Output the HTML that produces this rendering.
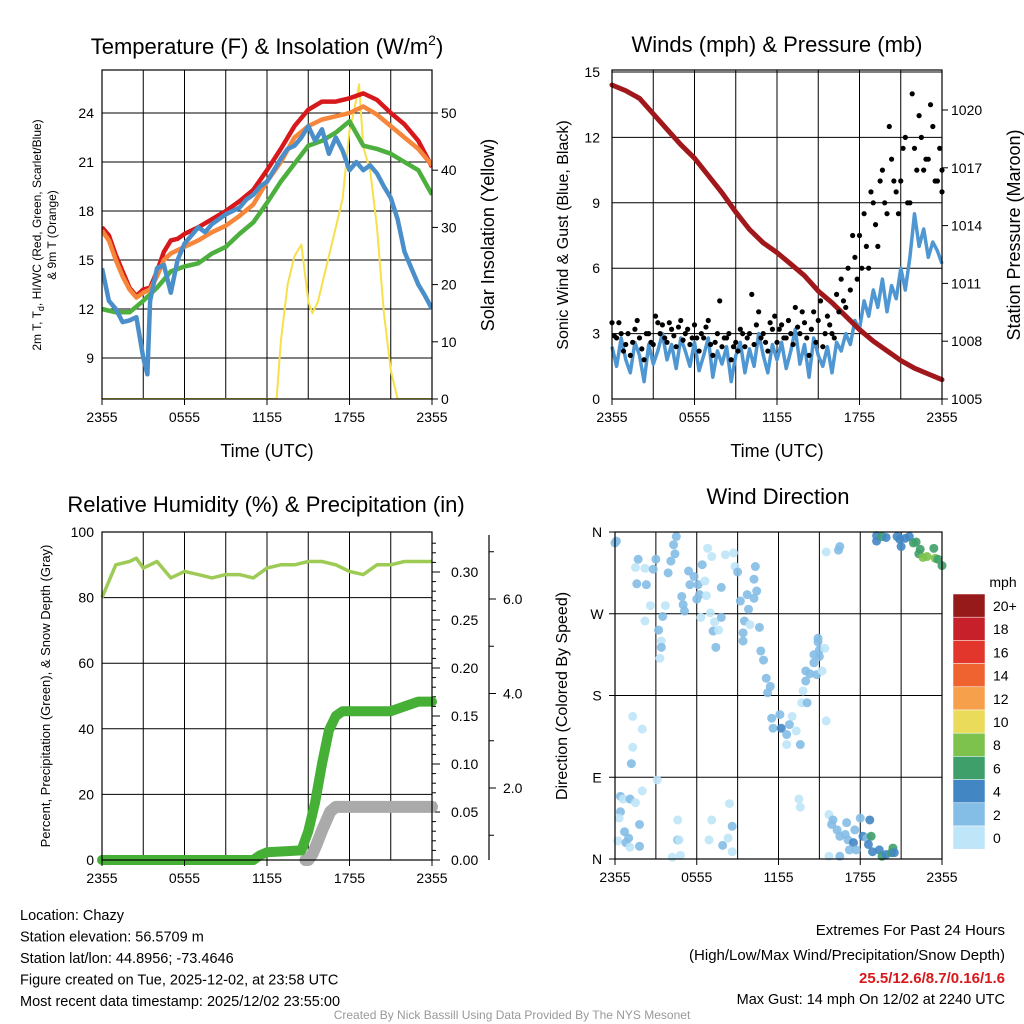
<!DOCTYPE html>
<html><head><meta charset="utf-8"><style>
body{margin:0;background:#fff}
svg{display:block;font-family:"Liberation Sans",sans-serif}
</style></head><body>
<svg id="s" width="1024" height="1024" viewBox="0 0 1024 1024"></svg>
<script>
// ---------- DATA ----------
const tempHours=[0,0.5,1,1.5,2,2.5,3,3.5,4,4.5,5,5.5,6,7,8,9,10,11,12,13,14,15,16,17,18,19,20,21,22,23,24];
const tempRed=[17.0,16.5,15.3,14.3,13.3,12.8,13.2,13.3,14.3,15.5,16.2,16.3,16.6,17.0,17.5,18.0,18.6,19.3,20.5,21.8,23.2,24.2,24.7,24.7,24.9,25.2,24.8,24.0,23.3,22.3,20.7];
const tempOrange=[16.8,16.2,15.0,14.0,13.2,12.7,13.0,13.2,14.0,15.0,15.4,15.6,15.8,16.2,16.7,17.1,17.7,18.4,19.8,21.0,22.5,23.2,23.6,23.8,24.0,24.4,23.9,23.2,22.5,21.8,20.8];
const hiHours=[0,1,2,3,4,5,6,7,8,9,10,11,12,13,14,15,16,17,18,19,20,21,22,23,24];
const tempGreen=[12.0,11.8,11.8,12.5,13.3,14.3,14.6,14.8,15.4,15.8,16.6,17.3,18.5,19.8,20.9,22.0,22.3,22.8,23.5,22.0,21.8,21.5,21.0,20.5,19.0];
const dewHours=[0,0.5,1,1.5,2,2.5,3,3.3,3.5,4,4.5,5,5.5,6,6.5,7,7.5,8,8.5,9,9.5,10,10.5,11,11.5,12,12.5,13,13.5,14,14.5,15,15.5,16,16.5,17,17.5,18,18.5,19,19.5,20,20.5,21,21.5,22,22.5,23,23.5,24];
const tempDew=[14.5,12.5,12.0,11.2,11.3,11.5,9.0,8.0,12.5,14.5,14.7,13.0,15.0,16.0,16.5,17.0,16.7,17.2,17.5,17.8,18.0,18.2,18.7,19.0,19.5,19.8,20.5,21.2,21.8,22.0,22.5,23.2,22.3,23.0,21.5,22.5,21.7,20.5,21.0,20.5,20.8,20.3,19.5,18.8,17.5,15.5,14.5,13.5,12.8,12.0];
const solarHours=[0,12.7,13,13.5,14,14.5,15,15.3,15.7,16,16.5,17,17.5,18,18.3,18.7,19,19.5,20,20.5,21,21.5,24];
const solar=[0,0,10,20,25,27,17,15,17,20,25,30,35,47,50,55,44,40,30,15,5,0,0];
const tempTicks=[9,12,15,18,21,24];
const solarTicks=[0,10,20,30,40,50];
const timeTicks=["2355","0555","1155","1755","2355"];

const windSpeed=[2.4,1.5,2.8,1.8,1.2,2.6,2.0,0.8,2.5,1.6,2.2,3.0,1.8,2.5,1.4,2.8,2.2,1.5,
2.6,1.3,2.0,2.8,1.0,2.2,1.6,2.4,0.8,2.0,2.6,1.2,2.3,1.5,3.0,2.0,1.2,2.5,
1.8,2.6,1.4,2.2,3.2,1.6,2.5,1.0,2.8,2.0,1.5,2.4,1.2,2.6,2.2,3.0,2.5,3.6,
3.2,4.5,3.8,5.0,4.2,5.5,4.0,5.2,4.6,6.0,5.0,6.5,8.5,7.0,7.8,6.5,7.2,6.8,6.2];
const gust1=[3.5,2.8,3.0,2.5,2.0,3.2,2.8,1.8,3.0,2.5,3.5,3.4,2.6,3.2,2.4,3.6,3.0,2.5,
3.4,2.2,2.8,3.6,2.0,3.0,2.4,2.8,1.8,2.6,3.2,2.4,3.0,2.5,4.0,3.0,2.2,3.2,
2.6,3.4,2.8,3.0,4.2,3.0,3.5,2.0,4.0,3.6,2.4,3.8,3.0,4.8,5.5,4.2,5.0,6.5,
7.5,8.5,6.0,9.0,7.0,10.5,8.5,11.0,9.5,10.0,12.0,9.0,11.5,13.0,10.5,11.0,12.5,10.0,9.5];
const gust2=[2.9,3.5,2.2,3.0,2.6,3.6,2.3,3.0,2.6,3.8,3.0,2.8,3.5,2.9,3.3,2.7,3.2,2.8,
2.8,3.0,3.3,2.5,2.6,4.5,2.8,3.0,2.4,2.2,3.0,2.8,4.8,3.4,2.8,2.6,3.5,3.8,
3.2,2.8,3.6,2.5,3.3,4.0,2.8,3.2,2.6,4.5,3.0,3.4,2.8,4.0,4.5,6.0,7.5,5.5,
6.0,7.0,9.5,8.0,10.0,9.0,12.5,10.0,8.5,11.5,9.0,14.0,10.5,12.0,11.0,13.5,10.0,11.5,10.5];
const presHours=[0,1,2,3,4,5,6,7,8,9,10,11,12,13,14,15,16,17,18,19,20,21,22,23,24];
const pressure=[1021.3,1021.0,1020.6,1019.8,1019.0,1018.2,1017.5,1016.6,1015.7,1014.7,1013.8,1013.1,1012.6,1012.0,1011.4,1010.6,1010.0,1009.3,1008.6,1008.0,1007.5,1007.0,1006.6,1006.3,1006.0];
const windTicks=[0,3,6,9,12,15];
const presTicks=[1005,1008,1011,1014,1017,1020];

const rhHours=[0,0.2,1,2,2.5,3,4,5,6,7,8,9,10,11,12,13,14,15,16,17,18,19,20,21,22,23,24];
const rh=[80,82,90,91,92,89,91,86,88,87,86,87,87,86,89,90,90,91,91,90,88,87,90,90,91,91,91];
const precipHours=[0,11,11.5,12,14.5,15,15.5,16,16.5,17,17.5,18,21,22,23,24];
const precip=[0,0,0.005,0.008,0.01,0.03,0.06,0.1,0.135,0.15,0.155,0.155,0.155,0.16,0.165,0.165];
const snowHours=[14.8,15,15.3,15.6,16,16.3,16.6,17,24];
const snow=[0,0.3,0.6,0.8,1.1,1.3,1.5,1.6,1.6];
const rhTicks=[0,20,40,60,80,100];
const precipTicks=[0,0.05,0.10,0.15,0.20,0.25,0.30];
const snowTicks=[2,4,6];

const dirHours=[0,0.1,1.7,1.5,2.2,1.6,2.3,2.6,2.2,3.0,2.8,3.9,4.1,4.3,4.5,4.4,3.7,3.5,3.2,3.4,3.4,3.3,4.9,5.0,5.1,5.4,5.5,5.8,6.1,6.6,6.2,6.7,6.0,6.3,6.4,6.8,7.1,7.0,7.2,7.6,7.4,7.3,7.8,7.8,8.1,8.7,8.8,9.0,9.2,9.7,9.8,10.2,10.4,10.2,10.3,9.5,9.4,9.4,9.9,10.6,10.7,10.9,11.1,11.4,11.2,11.5,12.1,11.6,12.2,12.6,13.0,12.8,13.3,13.6,12.6,13.7,14.1,13.8,14.0,14.0,14.3,14.6,14.8,15.2,15.0,14.6,15.0,14.9,15.4,15.5,14.9,15.5,16.4,16.5,
1.3,2.0,1.3,1.2,3.1,0.4,0.6,1.1,1.5,2.0,0.4,0.3,0.7,1.0,0.2,0.8,1.1,1.8,1.8,4.6,4.6,4.7,4.2,4.8,7.1,6.9,8.4,8.6,8.3,7.9,8.6,13.5,13.6,
15.7,16.0,15.9,17.0,18.0,18.7,16.3,16.5,16.9,17.6,17.1,17.5,18.2,18.5,18.8,18.6,17.2,17.7,18.9,19.4,19.6,19.9,20.3,20.4,20.5,16.5,15.7,
19.2,19.2,19.6,19.9,20.7,20.9,21.0,21.3,21.6,21.9,22.1,22.4,22.3,22.6,22.9,23.4,23.5,23.7,24.0];
const dirDeg=[348,350,330,321,320,303,302,279,262,330,319,315,328,346,355,336,279,267,252,240,233,221,289,280,273,317,302,311,302,306,291,290,286,266,324,342,333,271,251,252,233,261,299,266,335,337,322,316,284,291,275,287,295,308,322,262,249,240,258,255,229,219,199,190,183,155,159,144,144,137,157,148,141,126,126,172,172,185,196,207,204,216,203,207,223,225,230,239,232,152,243,338,340,344,
157,143,123,105,87,69,66,66,62,75,52,45,30,23,20,18,13,14,38,43,21,21,2,4,43,21,61,36,23,15,8,66,57,
49,43,38,40,45,43,32,25,27,32,21,18,25,23,25,16,10,10,8,10,3,5,7,12,7,3,3,
356,350,355,354,355,352,344,353,355,348,349,341,336,332,333,342,331,330,323];
const dirSpeed=[3,3,3,1,1,3,3,1,1,3,3,3,3,3,3,3,1,3,3,1,3,1,3,3,3,3,3,3,3,1,3,1,3,1,3,1,1,1,3,1,3,1,3,3,1,1,1,3,3,3,3,3,3,3,3,3,3,3,1,3,3,3,3,3,3,3,3,3,4,3,1,3,1,3,1,1,3,1,3,3,3,3,3,1,3,3,3,3,1,1,3,1,3,3,
1,1,1,3,1,3,1,3,1,1,3,1,3,3,1,3,1,3,3,1,3,1,1,1,1,1,1,3,1,3,1,1,1,
1,3,3,3,3,4.5,3,3,3,3,3,4,4,3.5,6.5,4,3,3,4,4,6.5,4,6.5,6.5,4,3,1,
4,4,6.5,4,4,4,4,4,4,6.5,6.5,6.5,6.5,8.5,8.5,6.5,8.5,6.5,6.5];
const legendLabels=["20+","18","16","14","12","10","8","6","4","2","0"];
const legendColors=["#961a1a","#c8202a","#e2352b","#ef6330","#f7a04b","#eadc5a","#7cc24c","#3f9f6a","#4287c4","#84bde6","#bfe5f8"];

// ---------- HELPERS ----------
const NS="http://www.w3.org/2000/svg";
const svg=document.getElementById('s');
function el(tag,attrs,parent){const e=document.createElementNS(NS,tag);for(const k in attrs)e.setAttribute(k,attrs[k]);(parent||svg).appendChild(e);return e;}
function txt(x,y,s,size,anchor,extra,parent){const t=el('text',Object.assign({x:x,y:y,'font-size':size,'text-anchor':anchor||'start',fill:'#000'},extra||{}),parent);t.textContent=s;return t;}
function lin(d0,d1,r0,r1){return v=>r0+(v-d0)*(r1-r0)/(d1-d0);}
function path(xs,ys,fx,fy){return xs.map((h,i)=>(i?'L':'M')+fx(h).toFixed(1)+','+fy(ys[i]).toFixed(1)).join('');}

function frame(x0,y0,x1,y1,name){
  const g=el('g',{});
  
  
  for(let i=1;i<8;i++){const x=x0+(x1-x0)*i/8;el('line',{x1:x,y1:y0,x2:x,y2:y1,stroke:'#000','stroke-width':1},g);}
  return g;
}
function border(x0,y0,x1,y1){el('rect',{x:x0,y:y0,width:x1-x0,height:y1-y0,fill:'none',stroke:'#000','stroke-width':1.2});}
function timeAxis(x0,x1,y){
  const fx=lin(0,24,x0,x1);
  timeTicks.forEach((t,i)=>{const x=fx(i*6);el('line',{x1:x,y1:y,x2:x,y2:y+6,stroke:'#000'});
    const tt=txt(x,y+23,t,14,'middle');
    
    });
}

// ---------- PANEL 1 ----------
{
const X0=102,X1=432,Y0=70,Y1=399;
const fx=lin(0,24,X0,X1), fy=lin(24,9,113,358), fs=lin(0,50,399,113);
const g=frame(X0,Y0,X1,Y1,'temperature-panel');
tempTicks.forEach(v=>{el('line',{x1:X0,y1:fy(v),x2:X1,y2:fy(v),stroke:'#000'});txt(X0-8,fy(v)+5,v,14,'end');});
solarTicks.forEach(v=>{el('line',{x1:X1,y1:fs(v),x2:X1+6,y2:fs(v),stroke:'#000'});txt(X1+9,fs(v)+5,v,14,'start');});
const clip=el('clipPath',{id:'c1'});el('rect',{x:X0,y:Y0,width:X1-X0,height:Y1-Y0},clip);
const series=[[solarHours,solar,fs,'#f8e04a',2,'solar-insolation-line'],[tempHours,tempRed,fy,'#d7191c',4.5,'temperature-2m-line'],[tempHours,tempOrange,fy,'#f6863a',4.5,'temperature-9m-line'],[hiHours,tempGreen,fy,'#4daf3e',4.5,'heat-index-line'],[dewHours,tempDew,fy,'#4a8fc9',4.5,'dewpoint-line']];
series.forEach(s=>{const p=el('path',{d:path(s[0],s[1],fx,s[2]),fill:'none',stroke:s[3],'stroke-width':s[4],'stroke-linejoin':'round','clip-path':'url(#c1)'});
 });
border(X0,Y0,X1,Y1);timeAxis(X0,X1,Y1);
const t=txt(267,54,'',22,'middle');t.innerHTML='Temperature (F) &amp; Insolation (W/m<tspan dy="-9" font-size="14">2</tspan><tspan dy="9">)</tspan>';

txt(267,457,'Time (UTC)',18,'middle');
txt(0,0,'2m T, T',12,'middle',{transform:'translate(41,235) rotate(-90)'}).innerHTML='2m T, T<tspan dy="3" font-size="9">d</tspan><tspan dy="-3">, HI/WC (Red, Green, Scarlet/Blue)</tspan>';
txt(0,0,'& 9m T (Orange)',12,'middle',{transform:'translate(56,235) rotate(-90)'});
txt(0,0,'Solar Insolation (Yellow)',18,'middle',{transform:'translate(494,235) rotate(-90)'});
}

// ---------- PANEL 2 ----------
{
const X0=612,X1=942,Y0=70,Y1=399;
const fx=lin(0,24,X0,X1), fy=lin(0,15,399,72), fp=lin(1005,1020,399,110);
frame(X0,Y0,X1,Y1,'winds-panel');
windTicks.forEach(v=>{el('line',{x1:X0,y1:fy(v),x2:X1,y2:fy(v),stroke:'#000'});txt(X0-12,fy(v)+5,v,14,'end');});
presTicks.forEach(v=>{el('line',{x1:X1,y1:fp(v),x2:X1+6,y2:fp(v),stroke:'#000'});txt(X1+9,fp(v)+5,v,14,'start');});
const wh=windSpeed.map((v,i)=>i/3);
const wp=el('path',{d:path(wh,windSpeed,fx,fy),fill:'none',stroke:'#4f97d2','stroke-width':3.5,'stroke-linejoin':'round'});

const pp=el('path',{d:path(presHours,pressure,fx,fp),fill:'none',stroke:'#a0181c','stroke-width':5,'stroke-linecap':'round'});

gust1.forEach((v,i)=>{const c=el('circle',{cx:fx(i/3),cy:fy(v),r:2.6,fill:'#000'});
 });
gust2.forEach((v,i)=>{const c=el('circle',{cx:fx(Math.min(24,i/3+1/6)),cy:fy(v),r:2.6,fill:'#000'});
 });
border(X0,Y0,X1,Y1);timeAxis(X0,X1,Y1);
txt(777,52,'Winds (mph) & Pressure (mb)',22,'middle');
txt(777,457,'Time (UTC)',18,'middle');
txt(0,0,'Sonic Wind & Gust (Blue, Black)',16,'middle',{transform:'translate(568,235) rotate(-90)'});
txt(0,0,'Station Pressure (Maroon)',18,'middle',{transform:'translate(1020,235) rotate(-90)'});
}

// ---------- PANEL 3 ----------
{
const X0=102,X1=432,Y0=532,Y1=860;
const fx=lin(0,24,X0,X1), fy=lin(0,100,860,532), fq=lin(0,0.30,860,572), fsn=lin(2,6,788,599);
frame(X0,Y0,X1,Y1,'humidity-panel');
rhTicks.forEach(v=>{el('line',{x1:X0,y1:fy(v),x2:X1,y2:fy(v),stroke:'#000'});txt(X0-8,fy(v)+5,v,14,'end');});
precipTicks.forEach(v=>{el('line',{x1:X1,y1:fq(v),x2:X1+8,y2:fq(v),stroke:'#000'});txt(X1+19,fq(v)+5,v.toFixed(2),14,'start');});
for(let v=0.01;v<0.34;v+=0.01){el('line',{x1:X1,y1:fq(v),x2:X1+4,y2:fq(v),stroke:'#000'});}
el('line',{x1:489,y1:535,x2:489,y2:860,stroke:'#000','stroke-width':1.2});
snowTicks.forEach(v=>{el('line',{x1:489,y1:fsn(v),x2:496,y2:fsn(v),stroke:'#000'});txt(503,fsn(v)+5,v.toFixed(1),14,'start');});
for(let v=1;v<=7;v+=1){el('line',{x1:489,y1:fsn(v),x2:494,y2:fsn(v),stroke:'#000'});}
const sp=el('path',{d:path(snowHours,snow,fx,v=>Math.min(860,fsn(v))),fill:'none',stroke:'#aaaaaa','stroke-width':12,'stroke-linecap':'round','stroke-linejoin':'round'});

const qp=el('path',{d:path(precipHours,precip,fx,fq),fill:'none',stroke:'#45b035','stroke-width':10,'stroke-linecap':'round','stroke-linejoin':'round'});

const rp=el('path',{d:path(rhHours,rh,fx,fy),fill:'none',stroke:'#9dcb55','stroke-width':3.5,'stroke-linejoin':'round'});

border(X0,Y0,X1,Y1);timeAxis(X0,X1,Y1);
txt(266,512,'Relative Humidity (%) & Precipitation (in)',22,'middle');
txt(0,0,'Percent, Precipitation (Green), & Snow Depth (Gray)',13,'middle',{transform:'translate(50,696) rotate(-90)'});
}

// ---------- PANEL 4 ----------
{
const X0=615,X1=942,Y0=532,Y1=859;
const fx=lin(0,24,X0,X1), fy=lin(0,360,859,532);
const g=frame(X0,Y0,X1,Y1,'wind-direction-panel');
const dl=['N','E','S','W','N'];
dl.forEach((s,i)=>{const y=fy(i*90);el('line',{x1:X0-6,y1:y,x2:X1,y2:y,stroke:'#000'});txt(X0-18,y+5,s,14,'middle');});
function col(s){const idx=10-Math.min(10,Math.floor(s/2));return legendColors[idx];}
dirHours.forEach((h,i)=>{const c=el('circle',{cx:fx(h),cy:fy(dirDeg[i]),r:4.5,fill:col(dirSpeed[i]),'fill-opacity':0.9});
 });
border(X0,Y0,X1,Y1);timeAxis(X0,X1,Y1);
txt(778,504,'Wind Direction',22,'middle');
txt(0,0,'Direction (Colored By Speed)',16,'middle',{transform:'translate(567,696) rotate(-90)'});
txt(1003,587,'mph',14,'middle');
legendLabels.forEach((l,i)=>{const y=594+i*23.2;const r=el('rect',{x:953,y:y,width:32,height:23.2,fill:legendColors[i],stroke:'#fff','stroke-width':0.5});
 
 txt(993,y+17,l,14,'start');});
}

// ---------- FOOTER ----------
const info=['Location: Chazy','Station elevation: 56.5709 m','Station lat/lon: 44.8956; -73.4646','Figure created on Tue, 2025-12-02, at 23:58 UTC','Most recent data timestamp: 2025/12/02 23:55:00'];
info.forEach((s,i)=>txt(20,920+i*21.5,s,14.5,'start'));
txt(1005,935,'Extremes For Past 24 Hours',15,'end');
txt(1005,960,'(High/Low/Max Wind/Precipitation/Snow Depth)',15,'end');
txt(1005,983,'25.5/12.6/8.7/0.16/1.6',15,'end',{fill:'#d7191c','font-weight':'bold'});
txt(1005,1004,'Max Gust: 14 mph On 12/02 at 2240 UTC',14.5,'end');
txt(512,1019,'Created By Nick Bassill Using Data Provided By The NYS Mesonet',12,'middle',{fill:'#999'});
</script>
</body></html>
